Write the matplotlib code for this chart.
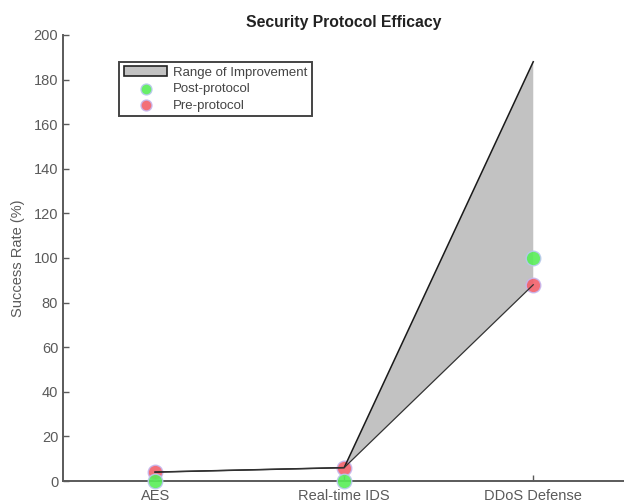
import matplotlib
matplotlib.use("Agg")
import matplotlib.pyplot as plt
import numpy as np

# dados
categorias = ['AES', 'Real-time IDS', 'DDoS Defense']
pre_protocolo = [4, 6, 88]
pos_protocolo = [0, 0, 100]

plt.rcParams['font.family'] = ['Liberation Sans', 'DejaVu Sans']
cinza = '#5a5a5a'

fig = plt.figure(figsize=(6.24, 5.04), dpi=100)
ax = fig.add_axes([0.101, 0.0456, 0.899, 0.885])

x = np.arange(1, len(categorias) + 1)
pre = np.array(pre_protocolo)
pos = np.array(pos_protocolo)
topo = pre + pos

# faixa de melhoria: entre o pré e pré + pós
faixa = ax.fill_between(x, pre, topo, facecolor='#c2c2c2', edgecolor='none',
                        label='Range of Improvement', zorder=1)
ax.plot(x, topo, color='#1a1a1a', linewidth=1.1, zorder=4)
ax.plot(x, pre, color='#333333', linewidth=0.9, zorder=4)

p_pre = ax.scatter(x, pre, s=110, color='#f2606a', edgecolors='#c6b6ee',
                   linewidths=1, alpha=0.9, label='Pre-protocol', zorder=3,
                   clip_on=False)
p_pos = ax.scatter(x, pos, s=110, color='#58ee58', edgecolors='#b8c8ee',
                   linewidths=1, alpha=0.9, label='Post-protocol', zorder=3,
                   clip_on=False)

ax.set_xlim(0.513, 3.48)
ax.set_ylim(0, 200)
ax.set_yticks(np.arange(0, 201, 20))
ax.set_xticks(x)
ax.set_xticklabels(categorias)

for lado in ['top', 'right']:
    ax.spines[lado].set_visible(False)
for lado in ['left', 'bottom']:
    ax.spines[lado].set_color(cinza)
    ax.spines[lado].set_linewidth(1.4)
ax.tick_params(colors=cinza, labelsize=10.5, direction='in', length=4, width=1)
ax.tick_params(axis='x', pad=6)

ax.set_ylabel('Success Rate (%)', color=cinza, fontsize=10.5, labelpad=6)
ax.set_title('Security Protocol Efficacy', fontsize=11.3, fontweight='bold',
             color='#222222', pad=6)

leg = ax.legend([faixa, p_pos, p_pre],
                ['Range of Improvement', 'Post-protocol', 'Pre-protocol'],
                loc='upper left', bbox_to_anchor=(0.10, 0.94), fontsize=9.5,
                fancybox=False, framealpha=1, edgecolor='#444444',
                handlelength=3.3, borderpad=0.35, labelspacing=0.33,
                handletextpad=0.4, borderaxespad=0, markerscale=0.75)
leg.get_frame().set_linewidth(1.4)
leg.legend_handles[0].set_edgecolor('#222222')
leg.legend_handles[0].set_linewidth(1.2)
for t in leg.get_texts():
    t.set_color('#444444')

fig.savefig('out.png', dpi=100)
